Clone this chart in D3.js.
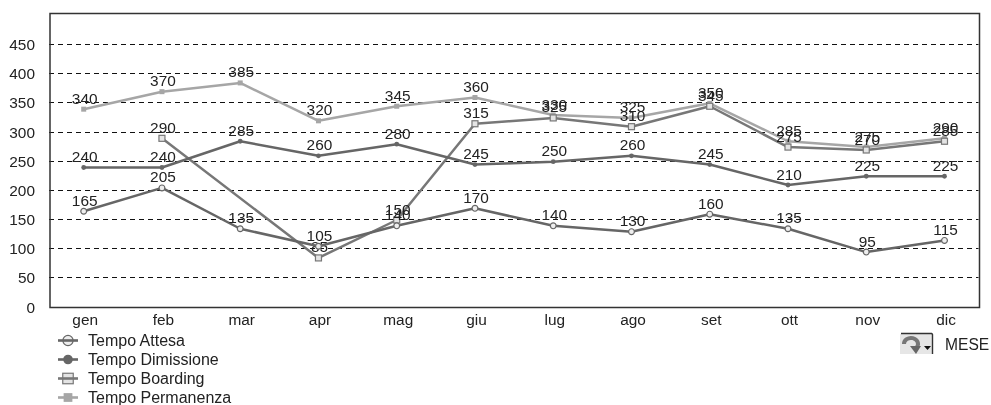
<!DOCTYPE html>
<html><head><meta charset="utf-8">
<script src="https://cdnjs.cloudflare.com/ajax/libs/d3/7.9.0/d3.min.js"></script>
<style>html,body{margin:0;background:#fff}svg{display:block;filter:blur(.4px)}text{font-family:"Liberation Sans",Arial,sans-serif;fill:#222}</style>
</head><body><svg id="c" width="991" height="405"></svg>
<script>
const months=["gen","feb","mar","apr","mag","giu","lug","ago","set","ott","nov","dic"];
const yTicks=[0,50,100,150,200,250,300,350,400,450];
const tempoAttesa=[165,205,135,105,140,170,140,130,160,135,95,115];
const tempoDimissione=[240,240,285,260,280,245,250,260,245,210,225,225];
const tempoBoarding=[null,290,null,85,150,315,325,310,345,275,270,285];
const tempoPermanenza=[340,370,385,320,345,360,330,325,350,285,275,290];
const seriesNames=["Tempo Attesa","Tempo Dimissione","Tempo Boarding","Tempo Permanenza"];
const seriesValues=[tempoAttesa,tempoDimissione,tempoBoarding,tempoPermanenza];
const seriesColors=["#666","#666","#777","#a6a6a6"];
const seriesMarkers=["ring","dot","square","solidSquare"];

const svg=d3.select("#c");
const L=50,R=979.5,T=13.5,B=307.5;
const FS=15.4;
const x=d3.scalePoint().domain(months).range([83.7,944.5]);
const y=d3.scaleLinear().domain([0,450]).range([B,45]);

svg.append("g").selectAll("line").data(yTicks.filter(d=>d>0)).join("line")
  .attr("x1",L-1).attr("x2",R-1).attr("y1",d=>Math.round(y(d))-.5).attr("y2",d=>Math.round(y(d))-.5)
  .attr("stroke","#111").attr("stroke-width",1.2).attr("stroke-dasharray","5 4");
svg.append("path").attr("d",`M${L} ${B}V${T}H${R}V${B}Z`)
  .attr("fill","none").attr("stroke","#333").attr("stroke-width",1.5);

const yAxis=d3.axisLeft(y).tickValues(yTicks).tickSize(0).tickPadding(15);
const gy=svg.append("g").attr("transform",`translate(${L},-1)`).call(yAxis);
gy.select(".domain").remove();
gy.selectAll("text").attr("font-size",FS).attr("dy","0.36em");
const xAxis=d3.axisBottom(x).tickSize(0).tickPadding(7);
const gx=svg.append("g").attr("transform",`translate(1,${B})`).call(xAxis);
gx.select(".domain").remove();
gx.selectAll("text").attr("font-size",FS);

function marker(g,kind,c,s){
  if(kind==="ring") g.append("circle").attr("r",2.9*s).attr("fill","#eee").attr("stroke",c).attr("stroke-width",1.2);
  if(kind==="dot") g.append("circle").attr("r",2.4*s).attr("fill",c);
  if(kind==="square") g.append("rect").attr("x",-3*s).attr("y",-3*s).attr("width",6*s).attr("height",6*s).attr("fill","#e4e4e4").attr("stroke",c).attr("stroke-width",1.2);
  if(kind==="solidSquare") g.append("rect").attr("x",-2.5*s).attr("y",-2.5*s).attr("width",5*s).attr("height",5*s).attr("fill",c);
}
const line=d3.line().x(d=>x(d.m)).y(d=>y(d.v));
[3,2,1,0].forEach(i=>{
  const pts=months.map((m,j)=>({m,v:seriesValues[i][j]})).filter(d=>d.v!==null);
  const g=svg.append("g");
  g.append("path").attr("d",line(pts)).attr("fill","none").attr("stroke",seriesColors[i]).attr("stroke-width",2.5).attr("stroke-linejoin","round");
  pts.forEach(d=>{marker(g.append("g").attr("transform",`translate(${x(d.m)},${y(d.v)})`),seriesMarkers[i],seriesColors[i],1);});
  g.selectAll("text").data(pts).join("text").attr("x",d=>x(d.m)+1).attr("y",d=>y(d.v)-5.5)
    .attr("text-anchor","middle").attr("font-size",FS).text(d=>d.v);
});

const leg=svg.append("g");
seriesNames.forEach((n,i)=>{
  const ly=340.5+i*19;
  const g=leg.append("g").attr("transform",`translate(68,${ly})`);
  marker(g,seriesMarkers[i],seriesColors[i],i===1?2:1.75);
  g.append("line").attr("x1",-10).attr("x2",10).attr("stroke",seriesColors[i]).attr("stroke-width",2.6);
  leg.append("text").attr("x",88).attr("y",ly+5).attr("font-size",16).text(n);
});

const b=svg.append("g").attr("transform","translate(899,333)");
b.append("rect").attr("x",1).attr("y",1).attr("width",32).attr("height",20).attr("fill","#e6e6e6");
b.append("path").attr("d","M2 .5H32.5a2 2 0 0 1 1 1V21").attr("fill","none").attr("stroke","#333").attr("stroke-width",1.4);
b.append("path").attr("d","M5 11a7 6 0 1 1 13 3").attr("fill","none").attr("stroke","#777").attr("stroke-width",4);
b.append("path").attr("d","M11 13l11 0 -5 8z").attr("fill","#666");
b.append("path").attr("d","M25 13h7l-3.5 4z").attr("fill","#111");
svg.append("text").attr("x",945).attr("y",350).attr("font-size",15.6).text("MESE");
</script></body></html>
